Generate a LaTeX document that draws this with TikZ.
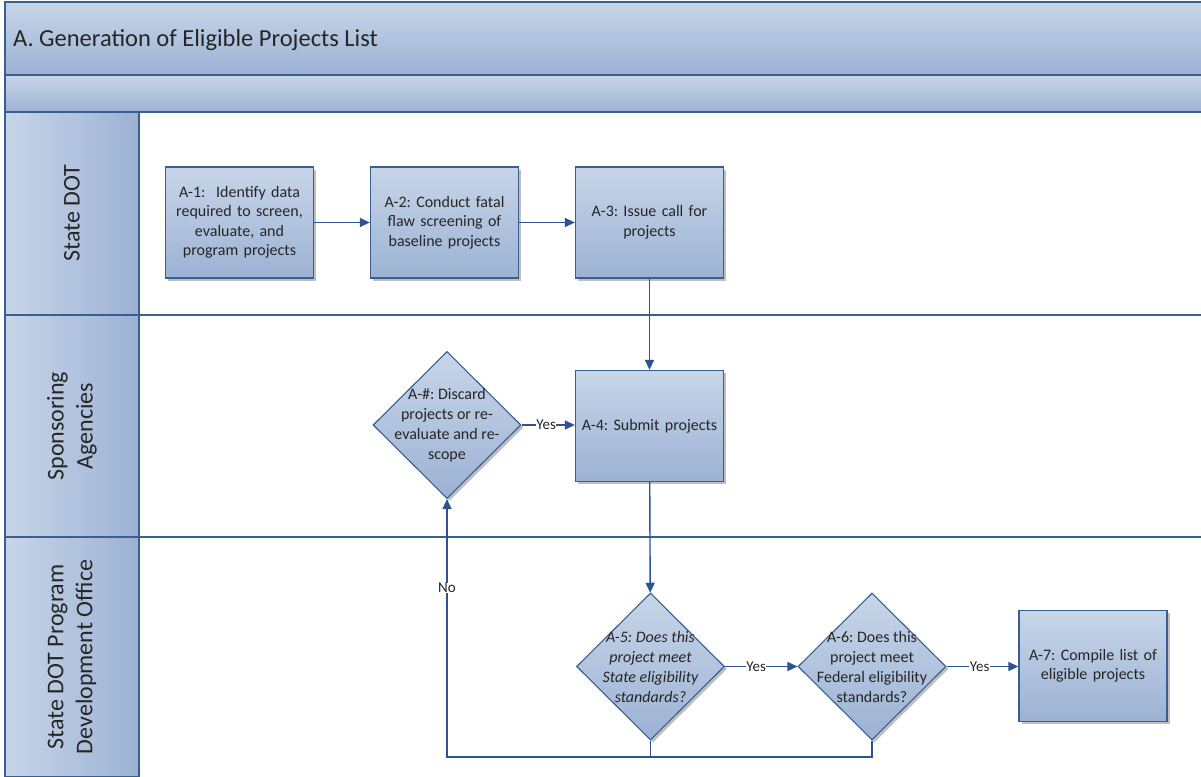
\documentclass[tikz,border=0pt]{standalone}
\usepackage{fontspec}
\setmainfont{Carlito}
\frenchspacing
\usetikzlibrary{arrows.meta,shapes.geometric,shadows}
\definecolor{edge}{HTML}{3A5F8F}
\definecolor{wire}{HTML}{2C5490}
\definecolor{fillTop}{HTML}{C7D5E8}
\definecolor{fillBot}{HTML}{9CB2D4}
\definecolor{txt}{HTML}{262626}
\tikzset{
  shade box/.style={drop shadow={shadow xshift=2.5pt, shadow yshift=-2.5pt, fill=black, opacity=0.25}},
  stepbox/.style={shade box, draw=edge, line width=1.3pt, top color=fillTop, bottom color=fillBot,
    minimum width=148pt, minimum height=111pt, text width=144pt, align=center, inner sep=0pt,
    text=txt, font=\fontsize{16}{19.5}\selectfont},
  decision/.style={shade box, diamond, draw=edge, line width=1.1pt, top color=fillTop, bottom color=fillBot,
    minimum width=148pt, minimum height=147pt, inner sep=0pt},
  dtext/.style={align=center, text=txt, font=\fontsize{16}{20}\selectfont},
  lanehead/.style={draw=edge, line width=1.3pt, left color=fillTop, right color=fillBot},
  lanetext/.style={rotate=90, align=center, text=txt, font=\fontsize{24}{29}\selectfont},
  flow/.style={draw=wire, line width=1.4pt, -{Triangle[width=9pt,length=10pt]}},
  wireline/.style={draw=wire, line width=1.4pt},
  tag/.style={fill=white, inner sep=0.5pt, text=txt, font=\fontsize{15}{17}\selectfont},
}
\begin{document}
\begin{tikzpicture}[x=1pt,y=-1pt]
\useasboundingbox (0,0) rectangle (1201,776);
\fill[white] (0,0) rectangle (1201,776);

% title band and sub-band
\shade[top color=fillTop, bottom color=fillBot] (5,2) rectangle (1201,75);
\shade[top color=fillTop, bottom color=fillBot] (5,75) rectangle (1201,112);
\draw[edge, line width=1.3pt] (1201,2) -- (5,2) -- (5,776);
\draw[edge, line width=1.3pt] (5,75) -- (1201,75);
\draw[edge, line width=1.3pt] (5,112) -- (1201,112);
\node[anchor=west, text=txt, font=\fontsize{24.5}{28}\selectfont, inner sep=0pt] (title) at (13,40) {A. Generation of Eligible Projects List};

% swimlanes
\draw[edge, line width=1.3pt] (5,315) -- (1201,315);
\draw[edge, line width=1.3pt] (5,537) -- (1201,537);
\draw[lanehead] (5,112) rectangle (139,315);
\draw[lanehead] (5,315) rectangle (139,537);
\draw[lanehead] (5,537) -- (139,537) -- (139,777) -- (5,777) -- cycle;
\node[lanetext] (lane1) at (72,213) {State DOT};
\node[lanetext] (lane2) at (72,426) {Sponsoring\\Agencies};
\node[lanetext] (lane3) at (72,657) {State DOT Program\\Development Office};

% process steps
\node[stepbox] (a1) at (239.5,222.5) {A-1:\ \ Identify data\\required to screen,\\evaluate, and\\program projects};
\node[stepbox] (a2) at (444.5,222.5) {A-2: Conduct fatal\\flaw screening of\\baseline projects};
\node[stepbox] (a3) at (649.5,222.5) {A-3: Issue call for\\projects};
\node[stepbox] (a4) at (649.5,426) {A-4: Submit projects};
\node[stepbox] (a7) at (1093,666) {A-7: Compile list of\\eligible projects};

% decisions
\node[decision] (dx) at (447,425) {};
\node[dtext] (dxt) at (dx) {A-\#: Discard\\projects or re-\\evaluate and re-\\scope};
\node[decision] (a5) at (650.5,666.5) {};
\node[dtext, font=\fontsize{16}{20}\selectfont\itshape] (a5t) at (a5) {A-5: Does this\\project meet\\State eligibility\\standards?};
\node[decision] (a6) at (872,666.5) {};
\node[dtext] (a6t) at (a6) {A-6: Does this\\project meet\\Federal eligibility\\standards?};

% connectors
\draw[flow] (a1) -- (a2);
\draw[flow] (a2) -- (a3);
\draw[flow] (a3) -- (a4);
\draw[flow] (dx.east) -- node[tag, pos=0.46] {Yes} (a4.west |- dx.east);
\draw[flow] (a4) -- (a5);
\draw[flow] (a5.east) -- node[tag, pos=0.43] {Yes} (a6.west);
\draw[flow] (a6.east) -- node[tag, pos=0.46] {Yes} (a7.west |- a6.east);
\coordinate (j5) at (650.5,757);
\coordinate (jx) at (447,757);
\draw[flow] (a5.south) -- (j5) -- (jx) -- node[tag, pos=0.655] {No} (dx.south);
\draw[wireline] (a6.south) |- (j5);
\end{tikzpicture}
\end{document}
